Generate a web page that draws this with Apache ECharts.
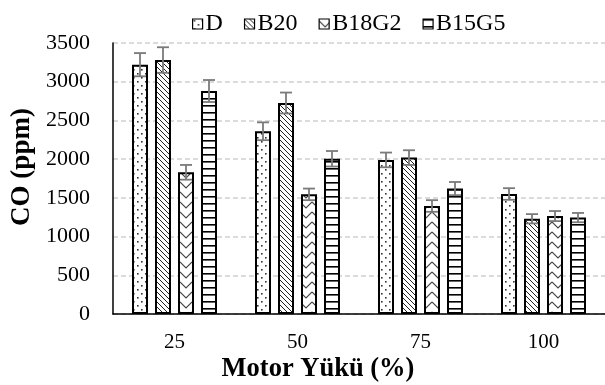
<!DOCTYPE html>
<html>
<head>
<meta charset="utf-8">
<script src="https://cdn.jsdelivr.net/npm/echarts@6/dist/echarts.min.js"></script>
<style>html,body{margin:0;padding:0;background:#fff}#c{width:605px;height:385px}</style>
</head>
<body>
<div id="c"></div>
<script>
// ---- data ----
const categories = ['25', '50', '75', '100'];
const seriesNames = ['D', 'B20', 'B18G2', 'B15G5'];
const valD = [3220, 2360, 1990, 1550];
const valB20 = [3280, 2725, 2020, 1230];
const valB18G2 = [1830, 1545, 1395, 1265];
const valB15G5 = [2880, 2005, 1620, 1245];
const errD = [150, 115, 95, 75];
const errB20 = [165, 135, 95, 60];
const errB18G2 = [95, 75, 75, 65];
const errB15G5 = [142, 100, 85, 60];
const yTicks = [0, 500, 1000, 1500, 2000, 2500, 3000, 3500];
const xTitle = 'Motor Yükü (%)';
const yTitle = 'CO (ppm)';

const values = [valD, valB20, valB18G2, valB15G5];
const errors = [errD, errB20, errB18G2, errB15G5];

// ---- patterns ----
function tile(w, h, draw) {
  const c = document.createElement('canvas');
  c.width = w; c.height = h;
  const g = c.getContext('2d');
  g.fillStyle = '#fff'; g.fillRect(0, 0, w, h);
  draw(g);
  return {image: c, repeat: 'repeat'};
}
const patDots = tile(8, 8, g => {
  g.fillStyle = '#333';
  g.fillRect(1, 1, 1.6, 1.6);
  g.fillRect(5, 5, 1.6, 1.6);
});
const patDiag = tile(5, 5, g => {
  g.strokeStyle = '#222'; g.lineWidth = 1;
  g.beginPath();
  g.moveTo(-1, -1); g.lineTo(6, 6);
  g.moveTo(-1, 4); g.lineTo(1, 6);
  g.moveTo(4, -1); g.lineTo(6, 1);
  g.stroke();
});
const patZig = tile(12, 10, g => {
  g.strokeStyle = '#444'; g.lineWidth = 1.1;
  g.beginPath();
  g.moveTo(0, 2); g.lineTo(6, 8); g.lineTo(12, 2);
  g.stroke();
});
const patHoriz = tile(4, 7, g => {
  g.fillStyle = '#000';
  g.fillRect(0, 0, 4, 1.6);
});
const patterns = [patDots, patDiag, patZig, patHoriz];

const font = 'Liberation Serif';
const barW = 16;
const step = 23;

const series = [];
seriesNames.forEach((name, i) => {
  series.push({
    name: name,
    type: 'bar',
    data: values[i],
    barWidth: barW,
    barGap: ((step - barW) / barW * 100) + '%',
    itemStyle: {color: patterns[i], borderColor: '#000', borderWidth: 2},
    emphasis: {disabled: true},
    z: 2
  });
});
seriesNames.forEach((name, i) => {
  series.push({
    name: name + '_err',
    type: 'custom',
    z: 5,
    data: categories.map((c, k) => [k, values[i][k], errors[i][k]]),
    renderItem: function (params, api) {
      const k = api.value(0), v = api.value(1), e = api.value(2);
      const top = api.coord([k, v + e]);
      const bot = api.coord([k, v - e]);
      const x = top[0] + (i - 1.5) * step;
      const hw = 6;
      const st = {stroke: '#7a7a7a', lineWidth: 1.8};
      return {
        type: 'group',
        children: [
          {type: 'line', shape: {x1: x, y1: top[1], x2: x, y2: bot[1]}, style: st},
          {type: 'line', shape: {x1: x - hw, y1: top[1], x2: x + hw, y2: top[1]}, style: st},
          {type: 'line', shape: {x1: x - hw, y1: bot[1], x2: x + hw, y2: bot[1]}, style: st}
        ]
      };
    }
  });
});

const chart = echarts.init(document.getElementById('c'), null, {renderer: 'canvas'});
chart.setOption({
  animation: false,
  backgroundColor: '#fff',
  textStyle: {fontFamily: font},
  grid: {left: 113, top: 43, width: 496, height: 271, containLabel: false},
  legend: {
    data: seriesNames.map(n => ({name: n, itemStyle: {borderColor: '#000', borderWidth: 1.2}})),
    left: 187, top: 7,
    itemWidth: 10, itemHeight: 10, itemGap: 21,
    icon: 'rect',
    itemStyle: {borderColor: '#000', borderWidth: 1.2},
    textStyle: {fontFamily: font, fontSize: 24, color: '#000', padding: [0, 0, 0, -2]}
  },
  xAxis: {
    type: 'category',
    data: categories,
    axisLine: {lineStyle: {color: '#000', width: 1.5}},
    axisTick: {show: false},
    axisLabel: {fontFamily: font, fontSize: 21, color: '#000', margin: 18}
  },
  yAxis: {
    type: 'value',
    min: yTicks[0], max: yTicks[yTicks.length - 1], interval: 500,
    axisLine: {show: true, lineStyle: {color: '#000', width: 1.5}},
    axisTick: {show: false},
    axisLabel: {fontFamily: font, fontSize: 22, color: '#000', margin: 23, formatter: v => String(v)},
    splitLine: {lineStyle: {color: '#d0d0d0', width: 1.5, type: [5, 3]}}
  },
  graphic: [
    {type: 'text', x: 318, y: 369, style: {text: xTitle, font: 'bold 26.5px "Liberation Serif"', fill: '#000', textAlign: 'center', textVerticalAlign: 'middle'}},
    {type: 'text', rotation: Math.PI / 2, x: 22, y: 167, style: {text: yTitle, font: 'bold 27px "Liberation Serif"', fill: '#000', textAlign: 'center', textVerticalAlign: 'middle'}}
  ],
  series: series
});
</script>
</body>
</html>
